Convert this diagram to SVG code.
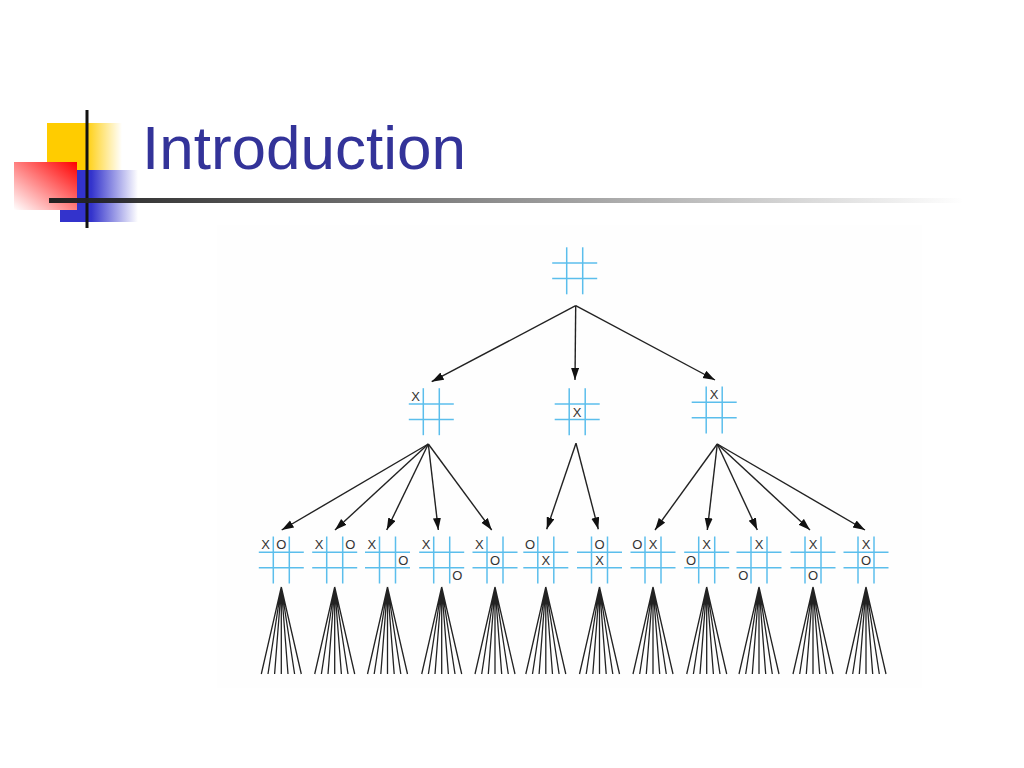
<svg xmlns="http://www.w3.org/2000/svg" xmlns:xlink="http://www.w3.org/1999/xlink" width="1024" height="768" viewBox="0 0 1024 768">
<style>
.title{font-family:"Liberation Sans",Arial,sans-serif;font-size:62px;fill:#333399}
.m{font-family:"Liberation Sans",Arial,sans-serif;font-size:13px;fill:#333;text-anchor:middle}
.grid{stroke:#5BBEEC;stroke-width:1.5;fill:none}
.edge{stroke:#222;stroke-width:1.4;fill:none;marker-end:url(#ah)}
.fan{stroke:#222;stroke-width:1.3;fill:none}
</style>
<defs>
<marker id="ah" markerUnits="userSpaceOnUse" markerWidth="13" markerHeight="9" refX="12" refY="4" orient="auto">
<path d="M0,0 L12,4 L0,8 z" fill="#111"/>
</marker>
<g id="board" class="grid">
<line x1="-22.5" y1="-7.7" x2="22.5" y2="-7.7"/>
<line x1="-22.5" y1="7.7" x2="22.5" y2="7.7"/>
<line x1="-8" y1="-23.5" x2="-8" y2="23.5"/>
<line x1="8" y1="-23.5" x2="8" y2="23.5"/>
</g>
<linearGradient id="gY" x1="0" y1="0" x2="1" y2="0">
<stop offset="0" stop-color="#FFCC00"/><stop offset="0.5" stop-color="#FFCC00"/><stop offset="1" stop-color="#FFCC00" stop-opacity="0"/>
</linearGradient>
<linearGradient id="gB" x1="0" y1="0" x2="1" y2="0">
<stop offset="0" stop-color="#3333CC"/><stop offset="0.4" stop-color="#3333CC"/><stop offset="1" stop-color="#3333CC" stop-opacity="0"/>
</linearGradient>
<linearGradient id="gR" x1="1" y1="0" x2="0" y2="1">
<stop offset="0" stop-color="#FF0000"/><stop offset="1" stop-color="#FFFFFF"/>
</linearGradient>
<linearGradient id="gL" x1="0" y1="0" x2="1" y2="0">
<stop offset="0" stop-color="#222"/><stop offset="1" stop-color="#222" stop-opacity="0"/>
</linearGradient>
</defs>
<rect width="1024" height="768" fill="#fff"/>
<g id="decoration">
<rect x="47" y="123" width="75" height="47" fill="url(#gY)"/>
<rect x="60" y="170" width="78" height="52" fill="url(#gB)"/>
<rect x="14" y="162" width="63" height="48" fill="url(#gR)"/>
<line x1="87" y1="110" x2="87" y2="228" stroke="#111" stroke-width="3"/>
<rect x="49" y="198" width="915" height="5" fill="url(#gL)"/>
</g>
<text class="title" x="142" y="169">Introduction</text>
<rect x="217" y="225" width="705" height="463" fill="#fefefe"/>
<g id="connectors">
<line class="edge" x1="575.7" y1="305.7" x2="431.7" y2="381.7"/>
<line class="edge" x1="575.7" y1="305.7" x2="575" y2="380"/>
<line class="edge" x1="575.7" y1="305.7" x2="715" y2="380"/>
<line class="edge" x1="428.3" y1="444" x2="281.7" y2="530"/>
<line class="edge" x1="428.3" y1="444" x2="335" y2="530"/>
<line class="edge" x1="428.3" y1="444" x2="386.7" y2="530"/>
<line class="edge" x1="428.3" y1="444" x2="438.3" y2="530"/>
<line class="edge" x1="428.3" y1="444" x2="491.7" y2="530"/>
<line class="edge" x1="576" y1="443.3" x2="546.7" y2="529.3"/>
<line class="edge" x1="576" y1="443.3" x2="598.3" y2="529.3"/>
<line class="edge" x1="717.3" y1="444" x2="655" y2="530"/>
<line class="edge" x1="717.3" y1="444" x2="707.3" y2="530"/>
<line class="edge" x1="717.3" y1="444" x2="757.3" y2="530"/>
<line class="edge" x1="717.3" y1="444" x2="810" y2="530"/>
<line class="edge" x1="717.3" y1="444" x2="865" y2="530"/>
<g class="fan"><path d="M281.3,587 L261.3,674 M281.3,587 L268,674 M281.3,587 L274.6,674 M281.3,587 L281.3,674 M281.3,587 L288,674 M281.3,587 L294.6,674 M281.3,587 L301.3,674"/></g>
<g class="fan"><path d="M334.7,587 L314.7,674 M334.7,587 L321.4,674 M334.7,587 L328,674 M334.7,587 L334.7,674 M334.7,587 L341.4,674 M334.7,587 L348,674 M334.7,587 L354.7,674"/></g>
<g class="fan"><path d="M387.5,587 L367.5,674 M387.5,587 L374.2,674 M387.5,587 L380.8,674 M387.5,587 L387.5,674 M387.5,587 L394.2,674 M387.5,587 L400.8,674 M387.5,587 L407.5,674"/></g>
<g class="fan"><path d="M441.7,587 L421.7,674 M441.7,587 L428.4,674 M441.7,587 L435,674 M441.7,587 L441.7,674 M441.7,587 L448.4,674 M441.7,587 L455,674 M441.7,587 L461.7,674"/></g>
<g class="fan"><path d="M495,587 L475,674 M495,587 L481.7,674 M495,587 L488.3,674 M495,587 L495,674 M495,587 L501.7,674 M495,587 L508.3,674 M495,587 L515,674"/></g>
<g class="fan"><path d="M545.8,587 L525.8,674 M545.8,587 L532.5,674 M545.8,587 L539.1,674 M545.8,587 L545.8,674 M545.8,587 L552.5,674 M545.8,587 L559.1,674 M545.8,587 L565.8,674"/></g>
<g class="fan"><path d="M599.5,587 L579.5,674 M599.5,587 L586.2,674 M599.5,587 L592.8,674 M599.5,587 L599.5,674 M599.5,587 L606.2,674 M599.5,587 L612.8,674 M599.5,587 L619.5,674"/></g>
<g class="fan"><path d="M653,587 L633,674 M653,587 L639.7,674 M653,587 L646.3,674 M653,587 L653,674 M653,587 L659.7,674 M653,587 L666.3,674 M653,587 L673,674"/></g>
<g class="fan"><path d="M706.7,587 L686.7,674 M706.7,587 L693.4,674 M706.7,587 L700,674 M706.7,587 L706.7,674 M706.7,587 L713.4,674 M706.7,587 L720,674 M706.7,587 L726.7,674"/></g>
<g class="fan"><path d="M759,587 L739,674 M759,587 L745.7,674 M759,587 L752.3,674 M759,587 L759,674 M759,587 L765.7,674 M759,587 L772.3,674 M759,587 L779,674"/></g>
<g class="fan"><path d="M813,587 L793,674 M813,587 L799.7,674 M813,587 L806.3,674 M813,587 L813,674 M813,587 L819.7,674 M813,587 L826.3,674 M813,587 L833,674"/></g>
<g class="fan"><path d="M866,587 L846,674 M866,587 L852.7,674 M866,587 L859.3,674 M866,587 L866,674 M866,587 L872.7,674 M866,587 L879.3,674 M866,587 L886,674"/></g>
</g>
<g id="root"><use xlink:href="#board" href="#board" x="574.7" y="270.8"/></g>
<g id="l2a"><use xlink:href="#board" href="#board" x="431.3" y="411.7"/><text class="m" x="415.6" y="401">X</text></g>
<g id="l2b"><use xlink:href="#board" href="#board" x="577.2" y="411.7"/><text class="m" x="577.2" y="416.5">X</text></g>
<g id="l2c"><use xlink:href="#board" href="#board" x="714.2" y="410"/><text class="m" x="714.2" y="399.3">X</text></g>
<g id="l3-1"><use xlink:href="#board" href="#board" x="281.3" y="560"/><text class="m" x="265.6" y="549.2">X</text><text class="m" x="281.3" y="549.2">O</text></g>
<g id="l3-2"><use xlink:href="#board" href="#board" x="334.7" y="560"/><text class="m" x="319" y="549.2">X</text><text class="m" x="350.4" y="549.2">O</text></g>
<g id="l3-3"><use xlink:href="#board" href="#board" x="387.5" y="560"/><text class="m" x="371.8" y="549.2">X</text><text class="m" x="403.2" y="564.7">O</text></g>
<g id="l3-4"><use xlink:href="#board" href="#board" x="441.7" y="560"/><text class="m" x="426" y="549.2">X</text><text class="m" x="457.4" y="580.2">O</text></g>
<g id="l3-5"><use xlink:href="#board" href="#board" x="495" y="560"/><text class="m" x="479.3" y="549.2">X</text><text class="m" x="495" y="564.7">O</text></g>
<g id="l3-6"><use xlink:href="#board" href="#board" x="545.8" y="560"/><text class="m" x="530.1" y="549.2">O</text><text class="m" x="545.8" y="564.7">X</text></g>
<g id="l3-7"><use xlink:href="#board" href="#board" x="599.5" y="560"/><text class="m" x="599.5" y="549.2">O</text><text class="m" x="599.5" y="564.7">X</text></g>
<g id="l3-8"><use xlink:href="#board" href="#board" x="653" y="560"/><text class="m" x="637.3" y="549.2">O</text><text class="m" x="653" y="549.2">X</text></g>
<g id="l3-9"><use xlink:href="#board" href="#board" x="706.7" y="560"/><text class="m" x="706.7" y="549.2">X</text><text class="m" x="691" y="564.7">O</text></g>
<g id="l3-10"><use xlink:href="#board" href="#board" x="759" y="560"/><text class="m" x="759" y="549.2">X</text><text class="m" x="743.3" y="580.2">O</text></g>
<g id="l3-11"><use xlink:href="#board" href="#board" x="813" y="560"/><text class="m" x="813" y="549.2">X</text><text class="m" x="813" y="580.2">O</text></g>
<g id="l3-12"><use xlink:href="#board" href="#board" x="866" y="560"/><text class="m" x="866" y="549.2">X</text><text class="m" x="866" y="564.7">O</text></g>
</svg>
